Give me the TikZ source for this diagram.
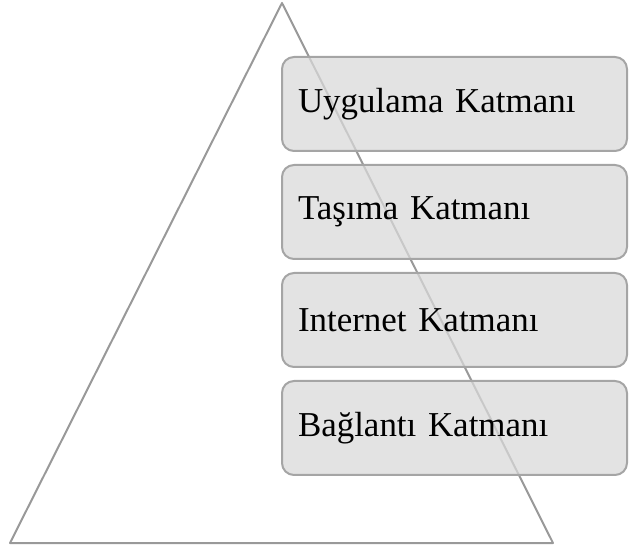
\documentclass[tikz,border=0pt]{standalone}
\usepackage{fontspec}
\setmainfont{Liberation Serif}
\usetikzlibrary{positioning}
\definecolor{katmangri}{RGB}{217,217,217}
\definecolor{kenargri}{RGB}{165,165,165}
\definecolor{ucgengri}{RGB}{153,153,153}
\tikzset{
  katman/.style={draw=kenargri, line width=1.5pt, fill=katmangri, fill opacity=0.74, text opacity=1,
    rounded corners=9pt, minimum width=258.75pt, minimum height=70.5pt,
    text width=234.75pt, inner xsep=12pt, align=left,
    font=\fontsize{26.2}{30}\selectfont},
}
\begin{document}
\begin{tikzpicture}[x=0.75pt, y=-0.75pt, line join=round]
\useasboundingbox (0,0) rectangle (629,552);
% Üçgenin köşeleri
\coordinate (T) at (282,3);
\coordinate (L) at (10,543);
\coordinate (R) at (553,543);
% Üçgen
\draw[ucgengri, line width=1.5pt] (T) -- (L) -- (R) -- cycle;
% Katmanlar
\node[katman] (uygulama) at (454.5,104) {Uygulama Katmanı};
\node[katman, below=9pt of uygulama] (tasima) {Taşıma Katmanı};
\node[katman, below=9pt of tasima] (internet) {Internet Katmanı};
\node[katman, below=9pt of internet] (baglanti) {Bağlantı Katmanı};
\end{tikzpicture}
\end{document}
